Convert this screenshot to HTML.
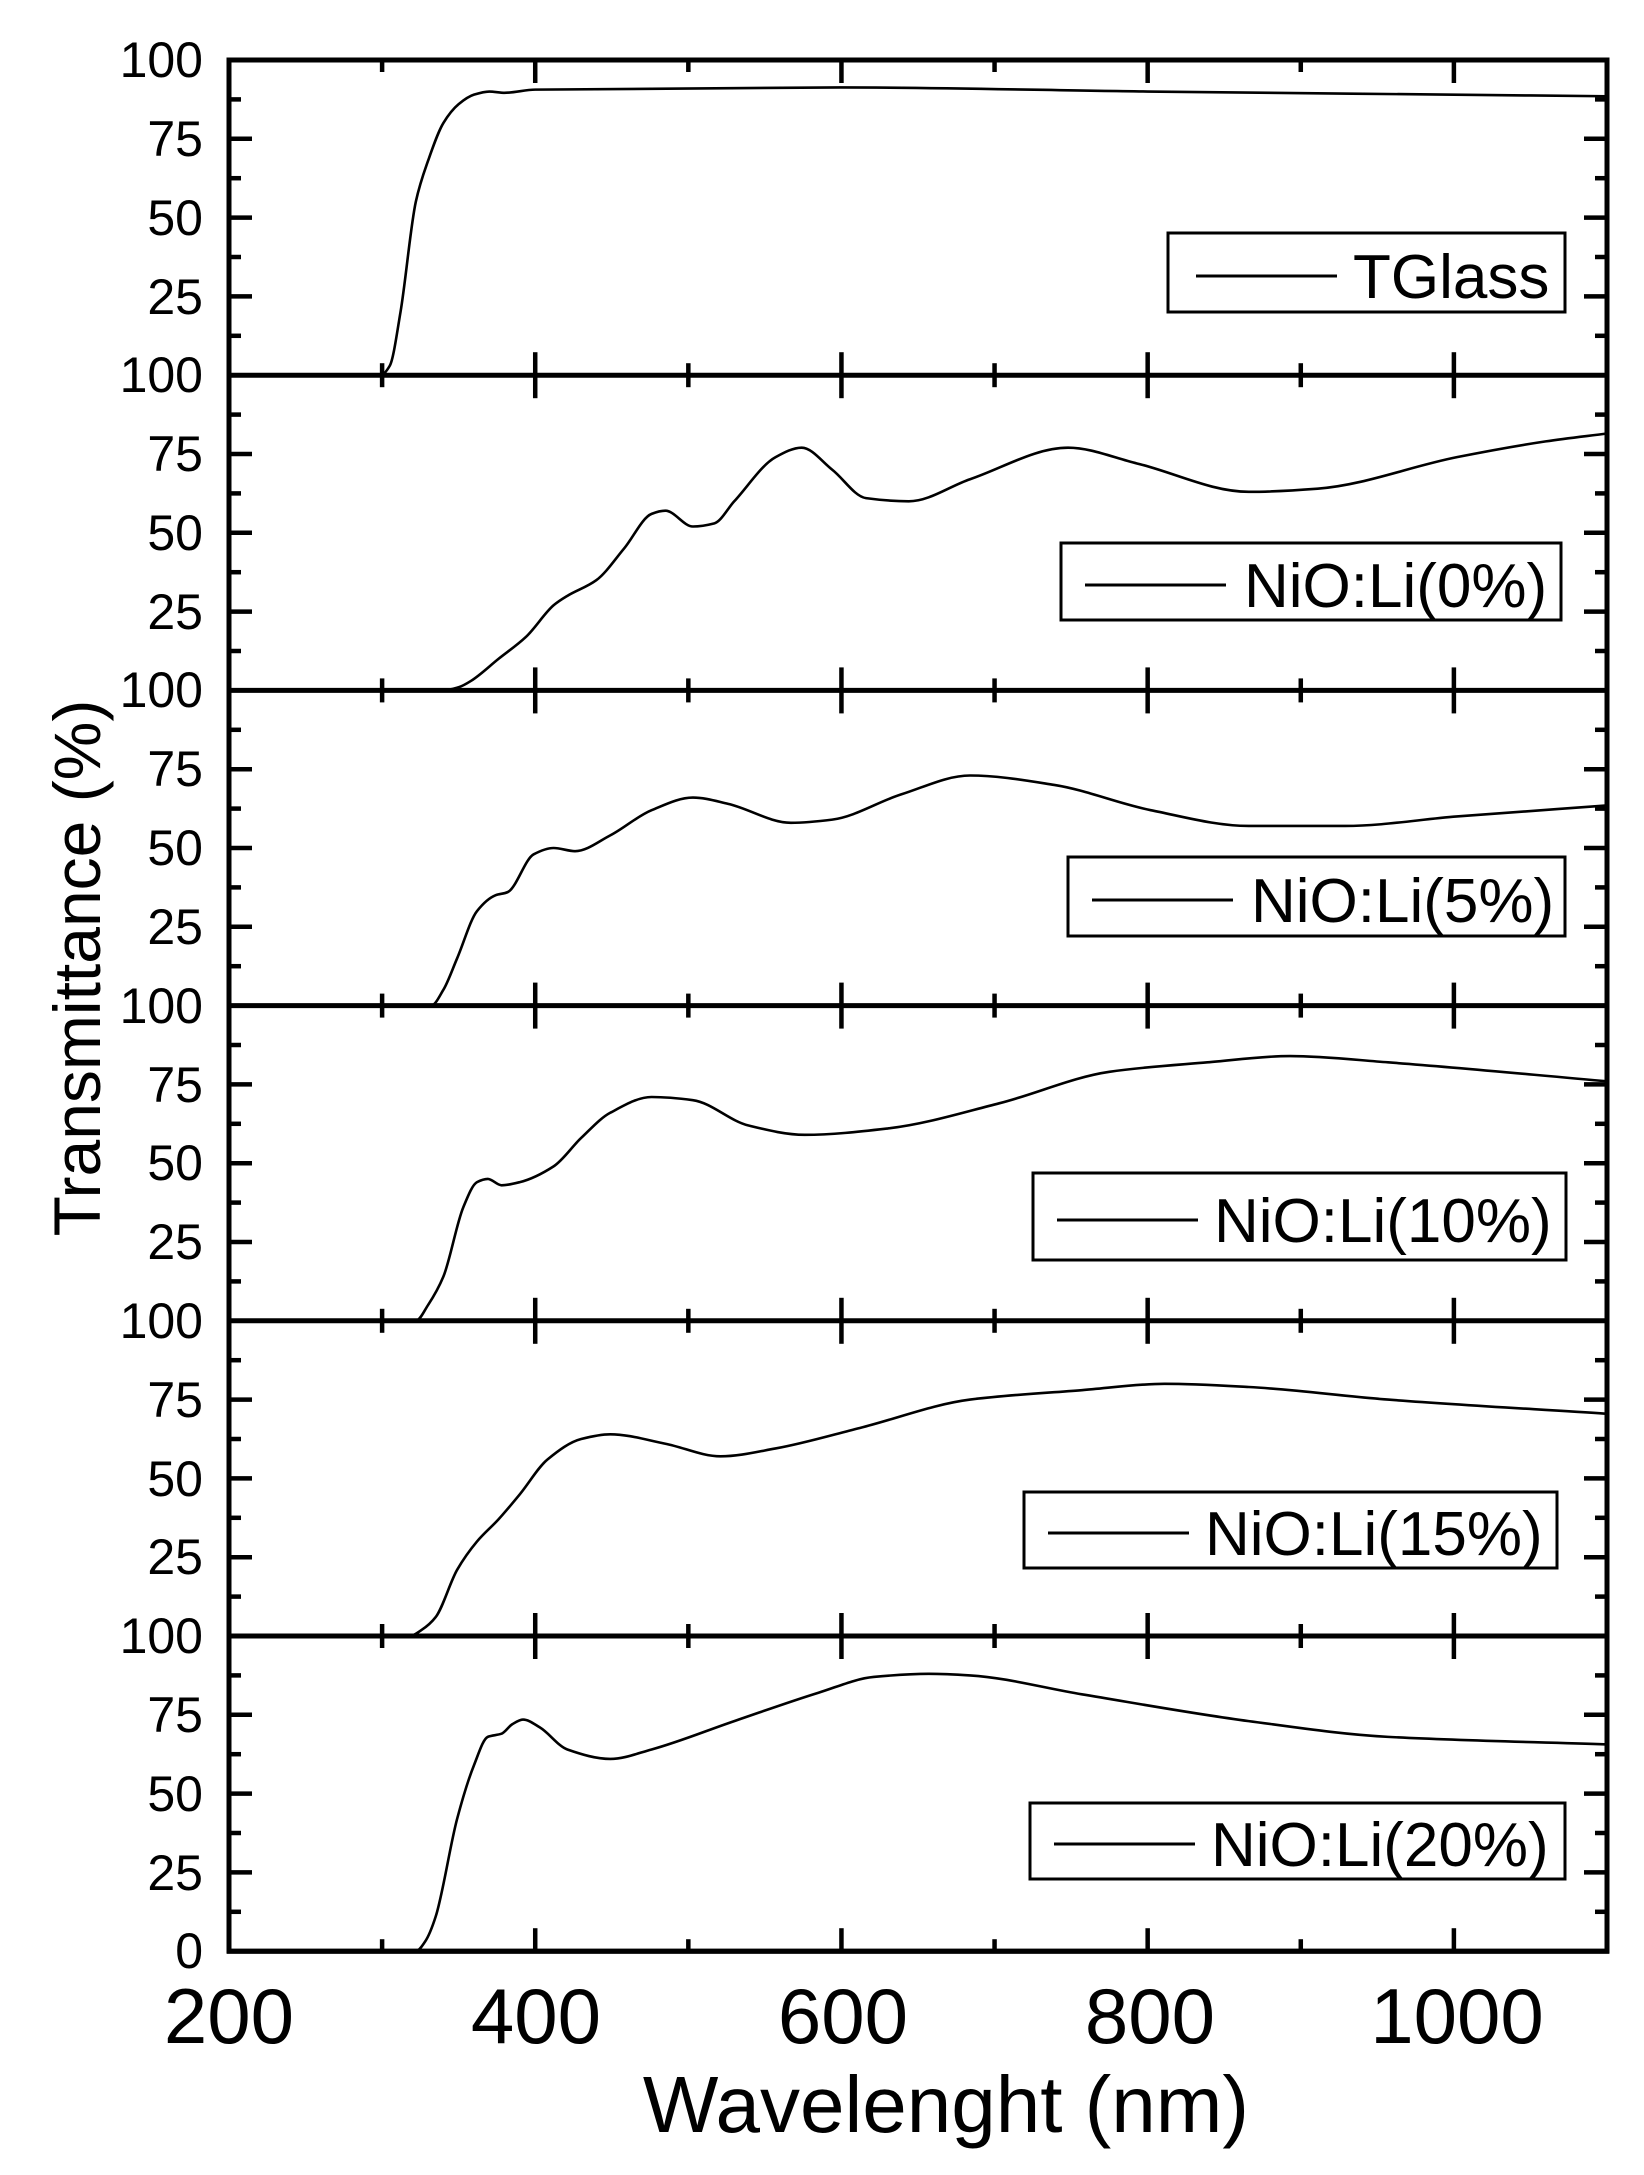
<!DOCTYPE html>
<html><head><meta charset="utf-8">
<style>
html,body{margin:0;padding:0;background:#fff;}
svg{display:block;}
text{font-family:"Liberation Sans",Arial,sans-serif;fill:#000;}
.yl{font-size:50px;text-anchor:end;dominant-baseline:central;}
.xl{font-size:78px;text-anchor:middle;}
.lg{font-size:62px;}
</style></head>
<body>
<svg id="s" width="1644" height="2175" viewBox="0 0 1644 2175" xmlns="http://www.w3.org/2000/svg">
<g id="ticks" stroke="#000" stroke-width="4.5" fill="none"></g>
<g id="curves" stroke="#000" stroke-width="2.6" fill="none" stroke-linejoin="round"></g>
<g id="frame" stroke="#000" stroke-width="5" fill="none"></g>
<g class="yl">
<text x="203" y="60">100</text><text x="203" y="139">75</text><text x="203" y="218">50</text><text x="203" y="297">25</text>
<text x="203" y="375">100</text><text x="203" y="454">75</text><text x="203" y="533">50</text><text x="203" y="612">25</text>
<text x="203" y="690">100</text><text x="203" y="769">75</text><text x="203" y="848">50</text><text x="203" y="927">25</text>
<text x="203" y="1006">100</text><text x="203" y="1085">75</text><text x="203" y="1163">50</text><text x="203" y="1242">25</text>
<text x="203" y="1321">100</text><text x="203" y="1400">75</text><text x="203" y="1479">50</text><text x="203" y="1557">25</text>
<text x="203" y="1636">100</text><text x="203" y="1715">75</text><text x="203" y="1794">50</text><text x="203" y="1873">25</text>
<text x="203" y="1951">0</text>
</g>
<g class="xl">
<text x="229" y="2043">200</text><text x="536" y="2043">400</text><text x="843" y="2043">600</text><text x="1150" y="2043">800</text><text x="1457" y="2043">1000</text>
</g>
<text x="946" y="2132" style="font-size:80px;text-anchor:middle">Wavelenght (nm)</text>
<text transform="translate(100,968) rotate(-90)" style="font-size:66px;text-anchor:middle">Transmittance (%)</text>
<g stroke="#000" stroke-width="3" fill="#fff">
<rect x="1168" y="233" width="397" height="79"/>
<rect x="1061" y="543" width="500" height="77"/>
<rect x="1068" y="857" width="497" height="79"/>
<rect x="1033" y="1173" width="533" height="87"/>
<rect x="1024" y="1492" width="533" height="76"/>
<rect x="1030" y="1803" width="535" height="76"/>
<line x1="1196" y1="276" x2="1337" y2="276"/>
<line x1="1085" y1="585" x2="1226" y2="585"/>
<line x1="1092" y1="900" x2="1233" y2="900"/>
<line x1="1057" y1="1220" x2="1198" y2="1220"/>
<line x1="1048" y1="1533" x2="1189" y2="1533"/>
<line x1="1054" y1="1844" x2="1195" y2="1844"/>
</g>
<g class="lg">
<text x="1353" y="298">TGlass</text>
<text x="1244" y="607">NiO:Li(0%)</text>
<text x="1251" y="922">NiO:Li(5%)</text>
<text x="1214" y="1242">NiO:Li(10%)</text>
<text x="1205" y="1555">NiO:Li(15%)</text>
<text x="1211" y="1866">NiO:Li(20%)</text>
</g>
</svg>
<script>
(function(){
var NS="http://www.w3.org/2000/svg";
var L=229,R=1607,T0=60,H=315.2;
function X(w){return L+(w-200)*(R-L)/900;}
function el(p,t,a){var e=document.createElementNS(NS,t);for(var k in a)e.setAttribute(k,a[k]);document.getElementById(p).appendChild(e);}
for(var i=0;i<6;i++){
 var pt=T0+i*H,pb=pt+H;
 for(var w=300;w<=1100;w+=100){var len=(w%200==0)?23:12;var x=X(w);
  el("ticks","line",{x1:x,y1:pb,x2:x,y2:pb-len});el("ticks","line",{x1:x,y1:pt,x2:x,y2:pt+len});}
 for(var v=12.5;v<100;v+=12.5){var len2=(v%25==0)?23:12;var y=pb-v/100*H;
  el("ticks","line",{x1:L,y1:y,x2:L+len2,y2:y});el("ticks","line",{x1:R,y1:y,x2:R-len2,y2:y});}
 el("frame","line",{x1:L-2,y1:pb,x2:R+2,y2:pb});
}
el("frame","rect",{x:L,y:T0,width:R-L,height:6*H});
var D=[
[[200,0],[299,0],[305,3],[312,20],[322,55],[330,68],[340,80],[350,86],[360,89],[370,90],[380,89.6],[400,90.6],[600,91.3],[800,90],[1000,89],[1100,88.5]],
[[200,0],[340,0],[350,1],[358,3],[376,10],[394,17],[412,27],[421,30],[440,35],[458,45],[476,56],[485,57],[503,52],[517,53],[530,60],[557,74],[574,77],[594,70],[616,61],[644,60],[684,67],[748,77],[793,72],[866,63],[911,64],[1002,74],[1060,79],[1100,81.5]],
[[200,0],[332,0],[340,5],[349,15],[362,30],[374,35],[382,36],[399,48],[412,50],[426,49],[449,54],[476,62],[503,66],[526,64],[567,58],[594,59],[639,67],[684,73],[739,70],[802,62],[866,57],[929,57],[1002,60],[1100,63.5]],
[[200,0],[322,0],[330,5],[340,14],[353,36],[362,44],[369,45],[378,43],[390,44],[412,49],[430,58],[449,66],[476,71],[503,70],[539,62],[576,59],[630,61],[703,69],[775,79],[839,82],[893,84],[957,82],[1100,76]],
[[200,0],[318,0],[326,2],[335,6],[349,21],[362,30],[376,37],[390,45],[408,56],[430,62.5],[449,64],[485,61],[521,57],[557,59.5],[612,66],[684,75],[757,78],[811,80],[866,79],[957,75],[1100,70.5]],
[[200,0],[322,0],[328,3],[335,11],[349,42],[360,59],[369,68],[378,69],[385,72],[392,73.5],[403,71],[421,64],[449,61],[476,64],[530,73],[585,82],[621,87],[657,88],[684,87.5],[757,81.5],[866,73],[957,68],[1100,65.6]]
];
for(var i=0;i<6;i++){
 var pb2=T0+(i+1)*H;
 var p=D[i].map(function(q){return [X(q[0]),pb2-q[1]/100*H];});
 var n=p.length,m=[];
 for(var j=0;j<n;j++){
  var a=p[Math.max(0,j-1)],b=p[Math.min(n-1,j+1)];
  var s1=j>0?(p[j][1]-p[j-1][1])/(p[j][0]-p[j-1][0]):null;
  var s2=j<n-1?(p[j+1][1]-p[j][1])/(p[j+1][0]-p[j][0]):null;
  if(s1===null)m.push(s2);else if(s2===null)m.push(s1);
  else if(s1*s2<=0)m.push(0);
  else m.push(2*s1*s2/(s1+s2));
 }
 var d="M"+p[0][0]+","+p[0][1];
 for(var j=0;j<n-1;j++){
  var dx=(p[j+1][0]-p[j][0])/3;
  d+=" C"+(p[j][0]+dx)+","+(p[j][1]+m[j]*dx)+" "+(p[j+1][0]-dx)+","+(p[j+1][1]-m[j+1]*dx)+" "+p[j+1][0]+","+p[j+1][1];
 }
 el("curves","path",{d:d});
}
})();
</script>
</body></html>
